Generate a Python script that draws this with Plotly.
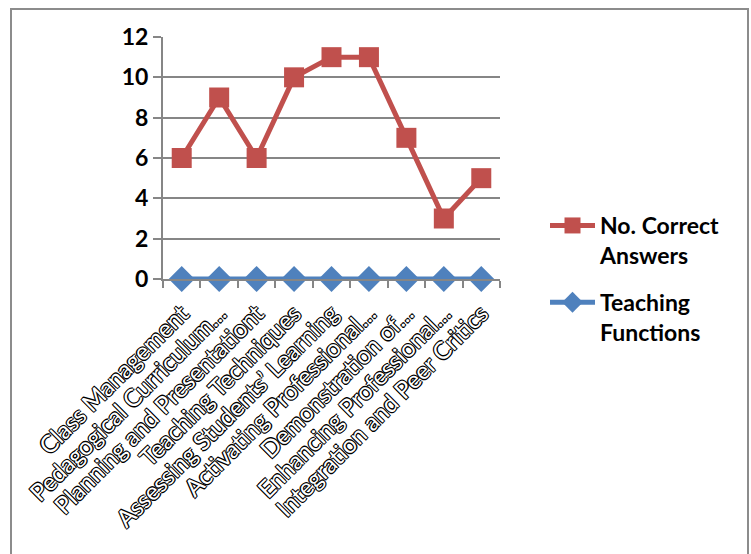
import plotly.graph_objects as go

categories = [
    "Class Management",
    "Pedagogical Curriculum…",
    "Planning and Presentationt",
    "Teaching Techniques",
    "Assessing Students’ Learning",
    "Activating Professional…",
    "Demonstration of…",
    "Enhancing Professional…",
    "Integration and Peer Critics",
]
correct_answers = [6, 9, 6, 10, 11, 11, 7, 3, 5]
teaching_functions = [0, 0, 0, 0, 0, 0, 0, 0, 0]
y_ticks = [0, 2, 4, 6, 8, 10, 12]

RED = "#C0504D"
BLUE = "#4F81BD"
GRID = "#868686"

W, H = 751, 554
L, R, T, B = 163, 251, 37, 275
pw, ph = W - L - R, H - T - B

fig = go.Figure()
fig.add_trace(go.Scatter(
    x=categories, y=correct_answers, name="No. Correct<br>Answers",
    mode="lines+markers", line=dict(color=RED, width=5),
    marker=dict(symbol="square", size=20, color=RED),
    cliponaxis=False, legendgroup="a",
))
fig.add_trace(go.Scatter(
    x=categories, y=teaching_functions, name="Teaching<br>Functions",
    mode="lines+markers", line=dict(color=BLUE, width=5),
    marker=dict(symbol="diamond", size=20, color=BLUE),
    cliponaxis=False, legendgroup="b",
))

def px(x):
    return (x - L) / pw

def py(y):
    return (H - B - y) / ph

fig.add_shape(type="rect", xref="paper", yref="paper",
              x0=px(11), x1=px(748), y0=py(600), y1=py(9),
              line=dict(color="#8C8C8C", width=2), layer="below")

fig.update_layout(
    width=W, height=H,
    margin=dict(l=L, r=R, t=T, b=B, autoexpand=False),
    paper_bgcolor="white", plot_bgcolor="white",
    font=dict(family="Lato, 'DejaVu Sans', sans-serif", color="black"),
    showlegend=True,
    legend=dict(
        x=px(545), y=py(204), xanchor="left", yanchor="top",
        font=dict(size=23, weight="bold", color="black"),
        valign="top", tracegroupgap=14, itemwidth=45,
        bgcolor="rgba(0,0,0,0)",
    ),
    xaxis=dict(
        type="category", range=[-0.5, len(categories) - 0.5],
        tickangle=-45, tickson="boundaries",
        ticks="outside", ticklen=7, tickcolor=GRID, tickwidth=1.5,
        showline=True, linecolor=GRID, linewidth=2,
        showgrid=False, zeroline=False, ticklabelstandoff=9,
        tickfont=dict(size=24, color="white",
                      shadow="1px 1px 0 #000, -1px -1px 0 #000, 1px -1px 0 #000, -1px 1px 0 #000"),
    ),
    yaxis=dict(
        range=[0, 12], tickvals=y_ticks, ticks="outside", ticklen=8,
        tickcolor=GRID, tickwidth=2,
        showline=True, linecolor=GRID, linewidth=2,
        showgrid=True, gridcolor=GRID, gridwidth=2, zeroline=False,
        tickfont=dict(size=23, weight="bold", color="black"),
    ),
)

fig.write_html("out.html")
